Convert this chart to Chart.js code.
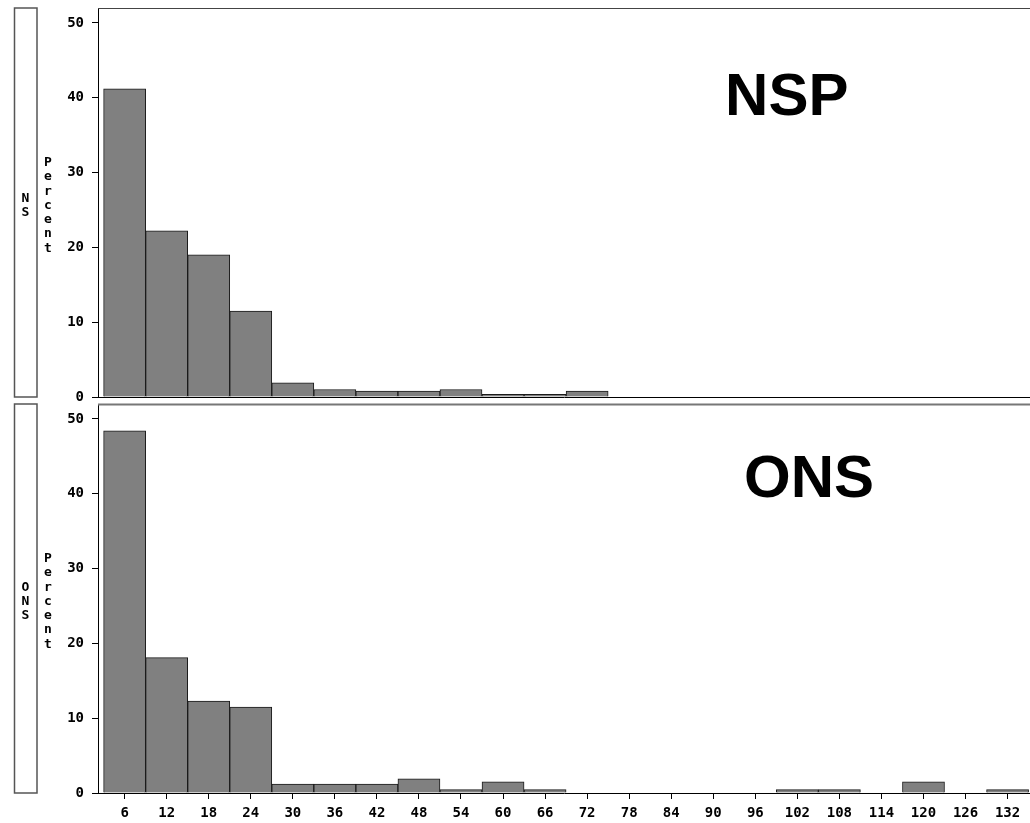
<!DOCTYPE html>
<html>
<head>
<meta charset="utf-8">
<script src="https://cdn.jsdelivr.net/npm/chart.js@4.4.1/dist/chart.umd.min.js"></script>
<style>
  html, body { margin: 0; padding: 0; background: #fff; }
  #wrap { position: relative; width: 1030px; height: 823px; overflow: hidden; }
  .panel { position: absolute; left: 0; width: 1030px; }
  #top-panel { top: 0; height: 410px; }
  #bottom-panel { top: 400px; height: 423px; }
</style>
</head>
<body>
<div id="wrap">
  <div class="panel" id="top-panel"><canvas id="nsp-chart"></canvas></div>
  <div class="panel" id="bottom-panel"><canvas id="ons-chart"></canvas></div>
</div>
<script>
// --- Data ---
const midpoints = [6, 12, 18, 24, 30, 36, 42, 48, 54, 60, 66, 72, 78, 84, 90, 96, 102, 108, 114, 120, 126, 132];
const yTicks = [0, 10, 20, 30, 40, 50];
const nspPercent = [41.2, 22.2, 19.0, 11.5, 1.9, 1.0, 0.8, 0.8, 1.0, 0.35, 0.35, 0.8, 0, 0, 0, 0, 0, 0, 0, 0, 0, 0];
const onsPercent = [48.4, 18.1, 12.3, 11.5, 1.2, 1.2, 1.2, 1.9, 0.45, 1.5, 0.45, 0, 0, 0, 0, 0, 0.45, 0.45, 0, 1.5, 0, 0.45];

const tickFont = { family: '"DejaVu Sans Mono", monospace', size: 14, weight: 'bold' };

// --- Panel decorations: frame top, side strip, "Percent", big label ---
const panelDecor = {
  id: 'panelDecor',
  afterDraw(chart, args, opts) {
    const { ctx, chartArea: a } = chart;
    ctx.save();
    // top edge of the frame
    ctx.strokeStyle = opts.frameColor;
    ctx.lineWidth = opts.frameWidth;
    ctx.beginPath();
    ctx.moveTo(a.left, a.top + 0.5);
    ctx.lineTo(a.right, a.top + 0.5);
    ctx.stroke();
    // strip box on the left
    ctx.strokeStyle = '#555';
    ctx.lineWidth = 1.5;
    ctx.strokeRect(14.5, a.top, 22.5, a.bottom - a.top);
    // stacked letters
    ctx.fillStyle = '#000';
    ctx.textAlign = 'center';
    ctx.textBaseline = 'middle';
    ctx.font = 'bold 13px "DejaVu Sans Mono", monospace';
    const mid = (a.top + a.bottom) / 2 + 3;
    const stack = (txt, x, gap) => {
      const chars = txt.split('');
      const start = mid - (chars.length - 1) * gap / 2;
      chars.forEach((c, i) => ctx.fillText(c, x, start + i * gap));
    };
    stack(opts.strip, 25.5, 14.3);
    stack('Percent', 48, 14.3);
    // big panel label
    ctx.font = 'bold 60px "Liberation Sans", Arial, sans-serif';
    ctx.textBaseline = 'alphabetic';
    ctx.fillText(opts.label, a.left + opts.labelX * (a.right - a.left), a.top + opts.labelY * (a.bottom - a.top));
    ctx.restore();
  }
};

function makeChart(canvasId, values, decor, showX, xHeight) {
  return new Chart(document.getElementById(canvasId), {
    type: 'bar',
    data: {
      datasets: [{
        data: midpoints.map((m, i) => ({ x: m, y: values[i] })),
        backgroundColor: '#808080',
        borderColor: '#1a1a1a',
        borderWidth: 1,
        barPercentage: 1,
        categoryPercentage: 1
      }]
    },
    options: {
      responsive: true,
      maintainAspectRatio: false,
      animation: false,
      layout: { padding: { top: decor.padTop, left: 0, right: 0, bottom: 0 } },
      plugins: { legend: { display: false }, tooltip: { enabled: false }, panelDecor: decor },
      scales: {
        x: {
          type: 'linear',
          min: 2.2,
          max: 135.2,
          offset: false,
          afterBuildTicks: s => { s.ticks = midpoints.map(v => ({ value: v })); },
          afterFit: s => { s.height = xHeight; s.paddingLeft = 0; s.paddingRight = 0; },
          grid: { offset: false, drawOnChartArea: false, drawTicks: showX, tickLength: 6, color: '#000' },
          border: { display: true, color: '#000', width: 1 },
          ticks: { display: showX, padding: 6, color: '#000', font: tickFont, maxRotation: 0, autoSkip: false }
        },
        y: {
          min: 0,
          max: 52,
          afterBuildTicks: s => { s.ticks = yTicks.map(v => ({ value: v })); },
          afterFit: s => { s.width = 98; s.paddingTop = 0; s.paddingBottom = 0; },
          grid: { drawOnChartArea: false, drawTicks: true, tickLength: 6, color: '#000' },
          border: { display: true, color: '#000', width: 1 },
          ticks: { padding: 8, color: '#000', font: tickFont }
        }
      }
    },
    plugins: [panelDecor]
  });
}

// --- Charts ---
makeChart('nsp-chart', nspPercent,
  { strip: 'NS', label: 'NSP', labelX: 0.739, labelY: 0.275, frameColor: '#444', frameWidth: 1, padTop: 8 },
  false, 13);
makeChart('ons-chart', onsPercent,
  { strip: 'ONS', label: 'ONS', labelX: 0.763, labelY: 0.239, frameColor: '#777', frameWidth: 2, padTop: 4 },
  true, 30);
</script>
</body>
</html>
